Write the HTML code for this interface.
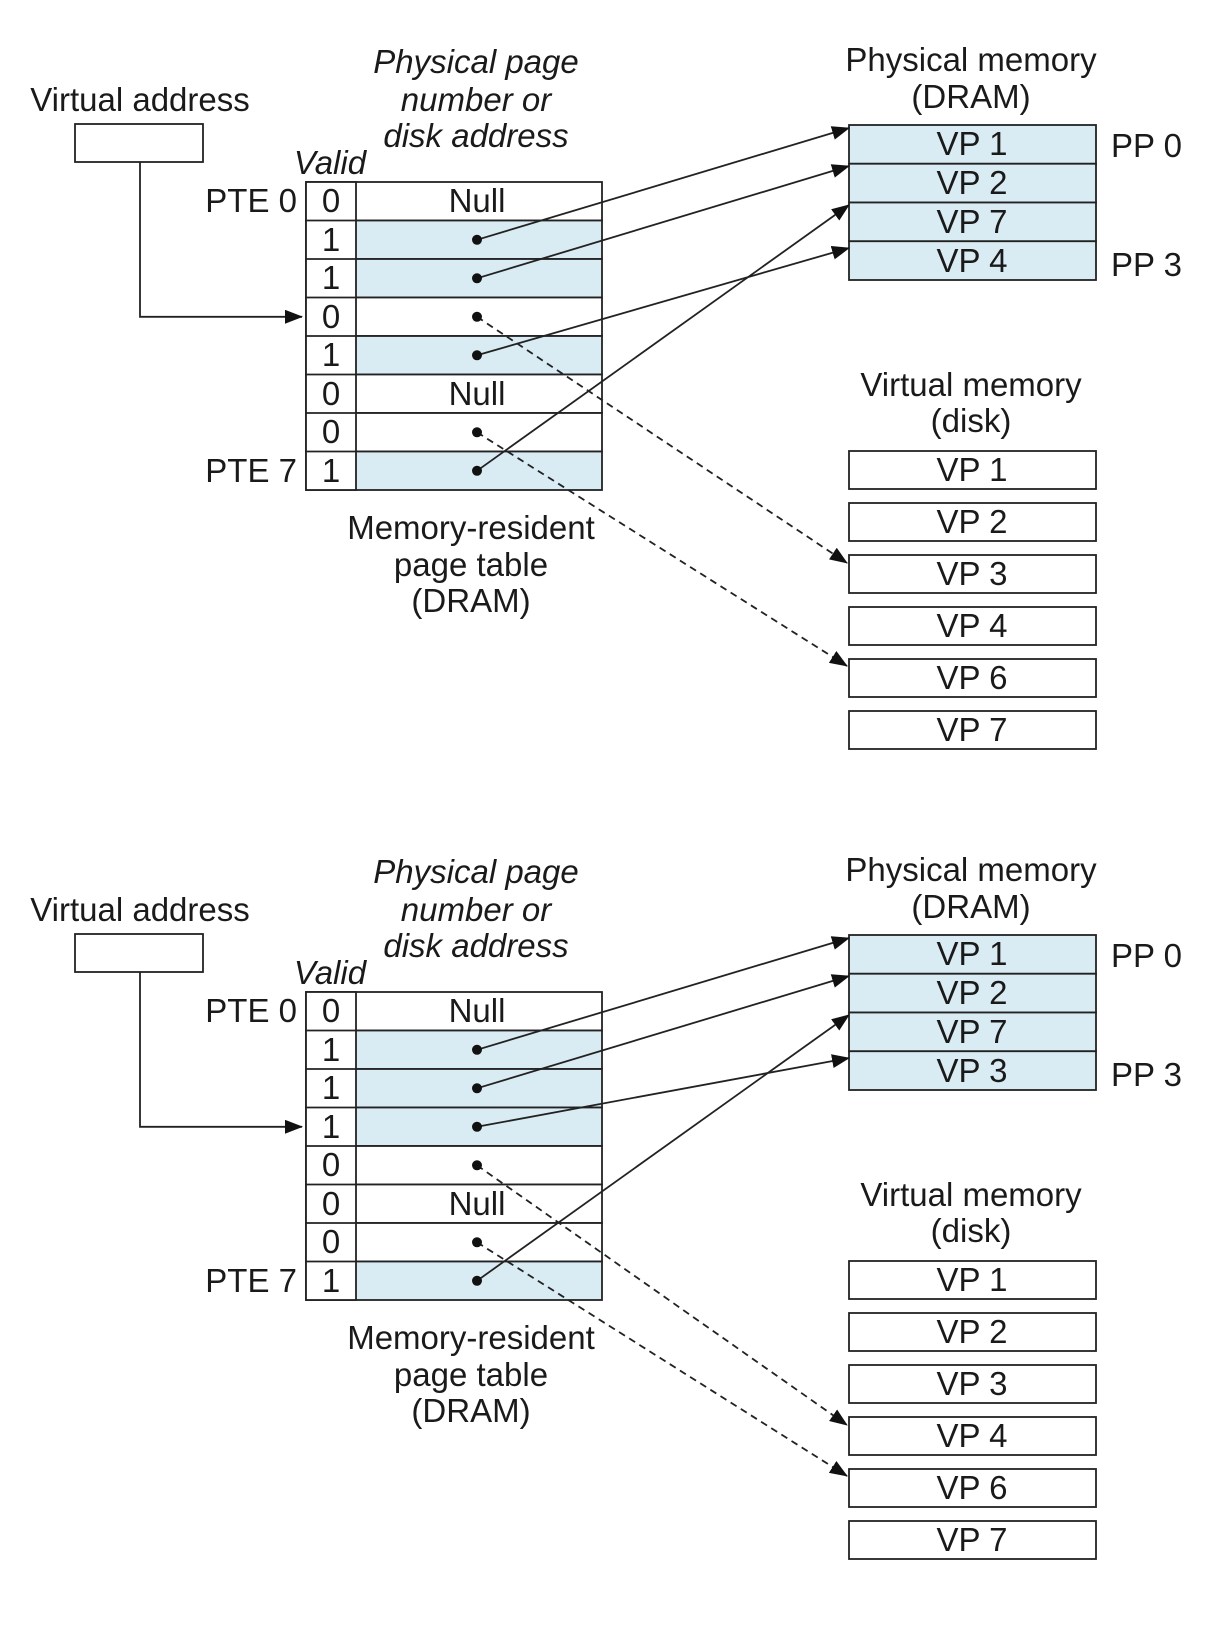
<!DOCTYPE html>
<html><head><meta charset="utf-8"><style>
html,body{margin:0;padding:0;background:#fff}
svg{display:block}
text{font-family:"Liberation Sans",sans-serif;font-size:33px;fill:#1a1a1a}
.i{font-style:italic}
.m{text-anchor:middle}
.r{text-anchor:end}
</style></head><body>
<svg width="1228" height="1632" viewBox="0 0 1228 1632" xmlns="http://www.w3.org/2000/svg">
<defs>
<marker id="ah" viewBox="0 0 18 14" refX="17" refY="7" markerWidth="18" markerHeight="14" markerUnits="userSpaceOnUse" orient="auto">
<path d="M0,0 L18,7 L0,14 z" fill="#111"/></marker>
</defs>
<g id="top" stroke="#222" stroke-width="1.8">
<rect x="75" y="124" width="128" height="38" fill="#fff"/>
<polyline points="140,162 140,316.8 302,316.8" fill="none" marker-end="url(#ah)"/>
<rect x="306" y="182" width="296" height="38.5" fill="#fff"/>
<rect x="306" y="220.5" width="296" height="38.5" fill="#d9ebf3"/>
<rect x="306" y="259" width="296" height="38.5" fill="#d9ebf3"/>
<rect x="306" y="297.5" width="296" height="38.5" fill="#fff"/>
<rect x="306" y="336" width="296" height="38.5" fill="#d9ebf3"/>
<rect x="306" y="374.5" width="296" height="38.5" fill="#fff"/>
<rect x="306" y="413" width="296" height="38.5" fill="#fff"/>
<rect x="306" y="451.5" width="296" height="38.5" fill="#d9ebf3"/>
<rect x="306" y="182" width="50" height="308" fill="#fff"/>
<line x1="306" y1="220.5" x2="356" y2="220.5"/><line x1="306" y1="259" x2="356" y2="259"/>
<line x1="306" y1="297.5" x2="356" y2="297.5"/><line x1="306" y1="336" x2="356" y2="336"/>
<line x1="306" y1="374.5" x2="356" y2="374.5"/><line x1="306" y1="413" x2="356" y2="413"/>
<line x1="306" y1="451.5" x2="356" y2="451.5"/>
<rect x="849" y="125" width="247" height="38.75" fill="#d9ebf3"/>
<rect x="849" y="163.75" width="247" height="38.75" fill="#d9ebf3"/>
<rect x="849" y="202.5" width="247" height="38.75" fill="#d9ebf3"/>
<rect x="849" y="241.25" width="247" height="38.75" fill="#d9ebf3"/>
<rect x="849" y="451" width="247" height="38" fill="#fff"/>
<rect x="849" y="503" width="247" height="38" fill="#fff"/>
<rect x="849" y="555" width="247" height="38" fill="#fff"/>
<rect x="849" y="607" width="247" height="38" fill="#fff"/>
<rect x="849" y="659" width="247" height="38" fill="#fff"/>
<rect x="849" y="711" width="247" height="38" fill="#fff"/>
<line x1="477" y1="239.8" x2="849" y2="128" marker-end="url(#ah)"/>
<line x1="477" y1="278.3" x2="849" y2="166" marker-end="url(#ah)"/>
<line x1="477" y1="355.3" x2="849" y2="248" marker-end="url(#ah)"/>
<line x1="477" y1="470.8" x2="849" y2="205" marker-end="url(#ah)"/>
<line x1="477" y1="316.8" x2="847" y2="563" stroke-dasharray="7,5" marker-end="url(#ah)"/>
<line x1="477" y1="432.3" x2="847" y2="666" stroke-dasharray="7,5" marker-end="url(#ah)"/>
<g fill="#111" stroke="none">
<circle cx="477" cy="239.8" r="5"/><circle cx="477" cy="278.3" r="5"/><circle cx="477" cy="316.8" r="5"/>
<circle cx="477" cy="355.3" r="5"/><circle cx="477" cy="432.3" r="5"/><circle cx="477" cy="470.8" r="5"/>
</g>
<g stroke="none">
<text x="140" y="111" class="m">Virtual address</text>
<text x="476" y="73" class="m i">Physical page</text>
<text x="476" y="111" class="m i">number or</text>
<text x="476" y="147" class="m i">disk address</text>
<text x="330" y="174" class="m i">Valid</text>
<text x="297" y="212" class="r">PTE 0</text>
<text x="297" y="482" class="r">PTE 7</text>
<text x="331" y="212" class="m">0</text><text x="331" y="251" class="m">1</text>
<text x="331" y="289" class="m">1</text><text x="331" y="328" class="m">0</text>
<text x="331" y="366" class="m">1</text><text x="331" y="405" class="m">0</text>
<text x="331" y="443" class="m">0</text><text x="331" y="482" class="m">1</text>
<text x="477" y="212" class="m">Null</text><text x="477" y="405" class="m">Null</text>
<text x="971" y="71" class="m">Physical memory</text>
<text x="971" y="108" class="m">(DRAM)</text>
<text x="972" y="155" class="m">VP 1</text><text x="972" y="194" class="m">VP 2</text>
<text x="972" y="233" class="m">VP 7</text><text x="972" y="272" class="m">VP 4</text>
<text x="1111" y="157">PP 0</text><text x="1111" y="276">PP 3</text>
<text x="971" y="396" class="m">Virtual memory</text>
<text x="971" y="432" class="m">(disk)</text>
<text x="972" y="481" class="m">VP 1</text><text x="972" y="533" class="m">VP 2</text>
<text x="972" y="585" class="m">VP 3</text><text x="972" y="637" class="m">VP 4</text>
<text x="972" y="689" class="m">VP 6</text><text x="972" y="741" class="m">VP 7</text>
<text x="471" y="539" class="m">Memory-resident</text>
<text x="471" y="576" class="m">page table</text>
<text x="471" y="612" class="m">(DRAM)</text>
</g>
</g>

<g transform="translate(0,810)" stroke="#222" stroke-width="1.8">
<rect x="75" y="124" width="128" height="38" fill="#fff"/>
<polyline points="140,162 140,316.8 302,316.8" fill="none" marker-end="url(#ah)"/>
<rect x="306" y="182" width="296" height="38.5" fill="#fff"/>
<rect x="306" y="220.5" width="296" height="38.5" fill="#d9ebf3"/>
<rect x="306" y="259" width="296" height="38.5" fill="#d9ebf3"/>
<rect x="306" y="297.5" width="296" height="38.5" fill="#d9ebf3"/>
<rect x="306" y="336" width="296" height="38.5" fill="#fff"/>
<rect x="306" y="374.5" width="296" height="38.5" fill="#fff"/>
<rect x="306" y="413" width="296" height="38.5" fill="#fff"/>
<rect x="306" y="451.5" width="296" height="38.5" fill="#d9ebf3"/>
<rect x="306" y="182" width="50" height="308" fill="#fff"/>
<line x1="306" y1="220.5" x2="356" y2="220.5"/><line x1="306" y1="259" x2="356" y2="259"/>
<line x1="306" y1="297.5" x2="356" y2="297.5"/><line x1="306" y1="336" x2="356" y2="336"/>
<line x1="306" y1="374.5" x2="356" y2="374.5"/><line x1="306" y1="413" x2="356" y2="413"/>
<line x1="306" y1="451.5" x2="356" y2="451.5"/>
<rect x="849" y="125" width="247" height="38.75" fill="#d9ebf3"/>
<rect x="849" y="163.75" width="247" height="38.75" fill="#d9ebf3"/>
<rect x="849" y="202.5" width="247" height="38.75" fill="#d9ebf3"/>
<rect x="849" y="241.25" width="247" height="38.75" fill="#d9ebf3"/>
<rect x="849" y="451" width="247" height="38" fill="#fff"/>
<rect x="849" y="503" width="247" height="38" fill="#fff"/>
<rect x="849" y="555" width="247" height="38" fill="#fff"/>
<rect x="849" y="607" width="247" height="38" fill="#fff"/>
<rect x="849" y="659" width="247" height="38" fill="#fff"/>
<rect x="849" y="711" width="247" height="38" fill="#fff"/>
<line x1="477" y1="239.8" x2="849" y2="128" marker-end="url(#ah)"/>
<line x1="477" y1="278.3" x2="849" y2="166" marker-end="url(#ah)"/>
<line x1="477" y1="316.8" x2="849" y2="248" marker-end="url(#ah)"/>
<line x1="477" y1="470.8" x2="849" y2="205" marker-end="url(#ah)"/>
<line x1="477" y1="355.3" x2="847" y2="615" stroke-dasharray="7,5" marker-end="url(#ah)"/>
<line x1="477" y1="432.3" x2="847" y2="666" stroke-dasharray="7,5" marker-end="url(#ah)"/>
<g fill="#111" stroke="none">
<circle cx="477" cy="239.8" r="5"/><circle cx="477" cy="278.3" r="5"/><circle cx="477" cy="316.8" r="5"/>
<circle cx="477" cy="355.3" r="5"/><circle cx="477" cy="432.3" r="5"/><circle cx="477" cy="470.8" r="5"/>
</g>
<g stroke="none">
<text x="140" y="111" class="m">Virtual address</text>
<text x="476" y="73" class="m i">Physical page</text>
<text x="476" y="111" class="m i">number or</text>
<text x="476" y="147" class="m i">disk address</text>
<text x="330" y="174" class="m i">Valid</text>
<text x="297" y="212" class="r">PTE 0</text>
<text x="297" y="482" class="r">PTE 7</text>
<text x="331" y="212" class="m">0</text><text x="331" y="251" class="m">1</text>
<text x="331" y="289" class="m">1</text><text x="331" y="328" class="m">1</text>
<text x="331" y="366" class="m">0</text><text x="331" y="405" class="m">0</text>
<text x="331" y="443" class="m">0</text><text x="331" y="482" class="m">1</text>
<text x="477" y="212" class="m">Null</text><text x="477" y="405" class="m">Null</text>
<text x="971" y="71" class="m">Physical memory</text>
<text x="971" y="108" class="m">(DRAM)</text>
<text x="972" y="155" class="m">VP 1</text><text x="972" y="194" class="m">VP 2</text>
<text x="972" y="233" class="m">VP 7</text><text x="972" y="272" class="m">VP 3</text>
<text x="1111" y="157">PP 0</text><text x="1111" y="276">PP 3</text>
<text x="971" y="396" class="m">Virtual memory</text>
<text x="971" y="432" class="m">(disk)</text>
<text x="972" y="481" class="m">VP 1</text><text x="972" y="533" class="m">VP 2</text>
<text x="972" y="585" class="m">VP 3</text><text x="972" y="637" class="m">VP 4</text>
<text x="972" y="689" class="m">VP 6</text><text x="972" y="741" class="m">VP 7</text>
<text x="471" y="539" class="m">Memory-resident</text>
<text x="471" y="576" class="m">page table</text>
<text x="471" y="612" class="m">(DRAM)</text>
</g>
</g>
</svg>
</body></html>
